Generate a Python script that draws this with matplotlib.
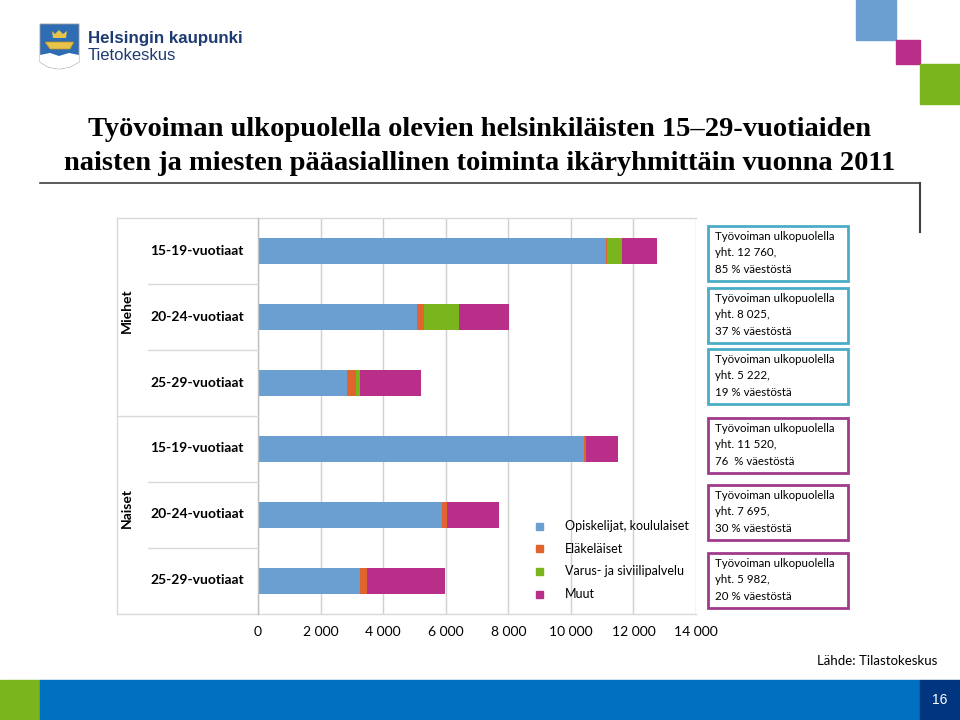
import matplotlib
matplotlib.use("Agg")
import matplotlib.pyplot as plt
from matplotlib.patches import Rectangle, Polygon
from matplotlib.lines import Line2D
import numpy as np

# data
ryhmat = ["15-19-vuotiaat", "20-24-vuotiaat", "25-29-vuotiaat",
          "15-19-vuotiaat", "20-24-vuotiaat", "25-29-vuotiaat"]
sarjat = ["Opiskelijat, koululaiset", "Eläkeläiset", "Varus- ja siviilipalvelu", "Muut"]
opiskelijat = [11110, 5090, 2850, 10410, 5890, 3260]
elakelaiset = [50, 210, 280, 60, 150, 220]
varus = [460, 1130, 120, 0, 0, 0]
muut = [1140, 1595, 1972, 1050, 1655, 2502]
laatikot = ["Työvoiman ulkopuolella\nyht. 12 760,\n85 % väestöstä",
            "Työvoiman ulkopuolella\nyht. 8 025,\n37 % väestöstä",
            "Työvoiman ulkopuolella\nyht. 5 222,\n19 % väestöstä",
            "Työvoiman ulkopuolella\nyht. 11 520,\n76  % väestöstä",
            "Työvoiman ulkopuolella\nyht. 7 695,\n30 % väestöstä",
            "Työvoiman ulkopuolella\nyht. 5 982,\n20 % väestöstä"]
xtikit = [0, 2000, 4000, 6000, 8000, 10000, 12000, 14000]

varit = ["#6B9FD2", "#E0642E", "#7AB51D", "#B92E88"]
W, H = 960, 720
plt.rcParams['font.family'] = ['Lato', 'DejaVu Sans']

fig = plt.figure(figsize=(9.6, 7.2), dpi=100)

def fx(x):
    return x / W

def fy(y):
    return 1 - y / H

def viiva(x0, y0, x1, y1, c="#d9d9d9", lw=1.0):
    fig.add_artist(Line2D([fx(x0), fx(x1)], [fy(y0), fy(y1)], color=c, lw=lw))

# main bars
ax = fig.add_axes([fx(258), fy(614), fx(696) - fx(258), fy(218) - fy(614)])
y = np.arange(len(ryhmat))
vasen = np.zeros(len(ryhmat))
for arvot, c in zip([opiskelijat, elakelaiset, varus, muut], varit):
    ax.barh(y, arvot, left=vasen, height=0.4, color=c, zorder=3)
    vasen = vasen + np.array(arvot)
ax.set_xlim(0, 14000)
ax.set_ylim(5.5, -0.5)
ax.set_yticks([])
ax.set_xticks(xtikit)
ax.set_xticklabels([f"{v:,}".replace(",", " ") for v in xtikit], fontsize=10)
ax.tick_params(axis="x", length=0, pad=9)
ax.grid(axis="x", color="#d0d0d0", lw=1.0, zorder=0)
for s in ax.spines.values():
    s.set_visible(False)

# frame and label area lines
viiva(117, 218, 696, 218)
viiva(117, 614, 696, 614)
viiva(117, 218, 117, 614)
viiva(258, 218, 258, 614, c="#bfbfbf")
for yy in [284, 350, 482, 548]:
    viiva(148, yy, 258, yy)
viiva(117, 416, 258, 416)

for i, r in enumerate(ryhmat):
    fig.text(fx(150), fy(251 + i * 65.8), r, fontsize=10, fontweight="bold",
             ha="left", va="center")
fig.text(fx(127), fy(311), "Miehet", rotation=90, fontsize=10, fontweight="bold",
         ha="center", va="center")
fig.text(fx(127), fy(508), "Naiset", rotation=90, fontsize=10, fontweight="bold",
         ha="center", va="center")

# legend
for i, (s, c) in enumerate(zip(sarjat, varit)):
    yy = 526 + i * 22.7
    fig.add_artist(Rectangle((fx(536), fy(yy + 3.5)), fx(7), 7 / H, color=c))
    fig.text(fx(565), fy(yy), s, fontsize=9, ha="left", va="center")

# boxes on the right
laatikko_y = [226, 288, 349, 418, 485, 553]
for i, (t, y0) in enumerate(zip(laatikot, laatikko_y)):
    c = "#4BACC6" if i < 3 else "#A03A8C"
    fig.add_artist(Rectangle((fx(708), fy(y0 + 55)), fx(140), 55 / H,
                             fill=False, ec=c, lw=2))
    fig.text(fx(715), fy(y0 + 5), t, fontsize=8.3, ha="left", va="top",
             linespacing=1.6)

# title
fig.text(0.5, fy(130), "Työvoiman ulkopuolella olevien helsinkiläisten 15\u201329-vuotiaiden",
         fontsize=20.5, fontweight="bold", family="Liberation Serif", ha="center", va="center")
fig.text(0.5, fy(163), "naisten ja miesten pääasiallinen toiminta ikäryhmittäin vuonna 2011",
         fontsize=20.5, fontweight="bold", family="Liberation Serif", ha="center", va="center")
viiva(40, 183, 920, 183, c="#404040", lw=1.2)
viiva(920, 183, 920, 232, c="#404040", lw=1.5)

# corner squares
fig.add_artist(Rectangle((fx(856), fy(40)), fx(40), 40 / H, color="#6B9FD2"))
fig.add_artist(Rectangle((fx(896), fy(64)), fx(24), 24 / H, color="#B92E88"))
fig.add_artist(Rectangle((fx(920), fy(104)), fx(40), 40 / H, color="#7AB51D"))

# logo
kilpi = [(40, 24), (79, 24), (79, 62), (70, 67), (59, 69), (48, 67), (40, 62)]
fig.add_artist(Polygon([(fx(a), fy(b)) for a, b in kilpi], closed=True,
                       fc="#2E6DB4", ec="#9a9a9a", lw=0.6))
aalto = [(40, 55), (50, 53), (59, 56), (69, 53), (79, 55), (79, 62), (70, 67),
         (59, 69), (48, 67), (40, 62)]
fig.add_artist(Polygon([(fx(a), fy(b)) for a, b in aalto], closed=True,
                       fc="white", ec="none"))
vene = [(45, 42), (74, 42), (70, 49), (50, 49)]
fig.add_artist(Polygon([(fx(a), fy(b)) for a, b in vene], closed=True,
                       fc="#E8C34A", ec="#B8901A", lw=0.5))
kruunu = [(52, 31), (55, 34), (59, 30), (63, 34), (67, 31), (66, 38), (53, 38)]
fig.add_artist(Polygon([(fx(a), fy(b)) for a, b in kruunu], closed=True,
                       fc="#E8C34A", ec="none"))
fig.text(fx(88), fy(38), "Helsingin kaupunki", fontsize=12.2, fontweight="bold",
         color="#1F3B73", family="Liberation Sans", ha="left", va="center")
fig.text(fx(88), fy(56), "Tietokeskus", fontsize=12, color="#1F3B73",
         family="Liberation Sans", ha="left", va="center")

# footer
fig.text(fx(937), fy(661), "Lähde: Tilastokeskus", fontsize=9.5, ha="right", va="center")
fig.add_artist(Rectangle((0, 0), fx(40), 40 / H, color="#7AB51D"))
fig.add_artist(Rectangle((fx(40), 0), fx(880), 40 / H, color="#0070C0"))
fig.add_artist(Rectangle((fx(920), 0), fx(40), 40 / H, color="#003580"))
fig.text(fx(940), fy(700), "16", color="white", fontsize=10, ha="center", va="center",
         family="Liberation Sans")

fig.savefig("out.png", dpi=100)
